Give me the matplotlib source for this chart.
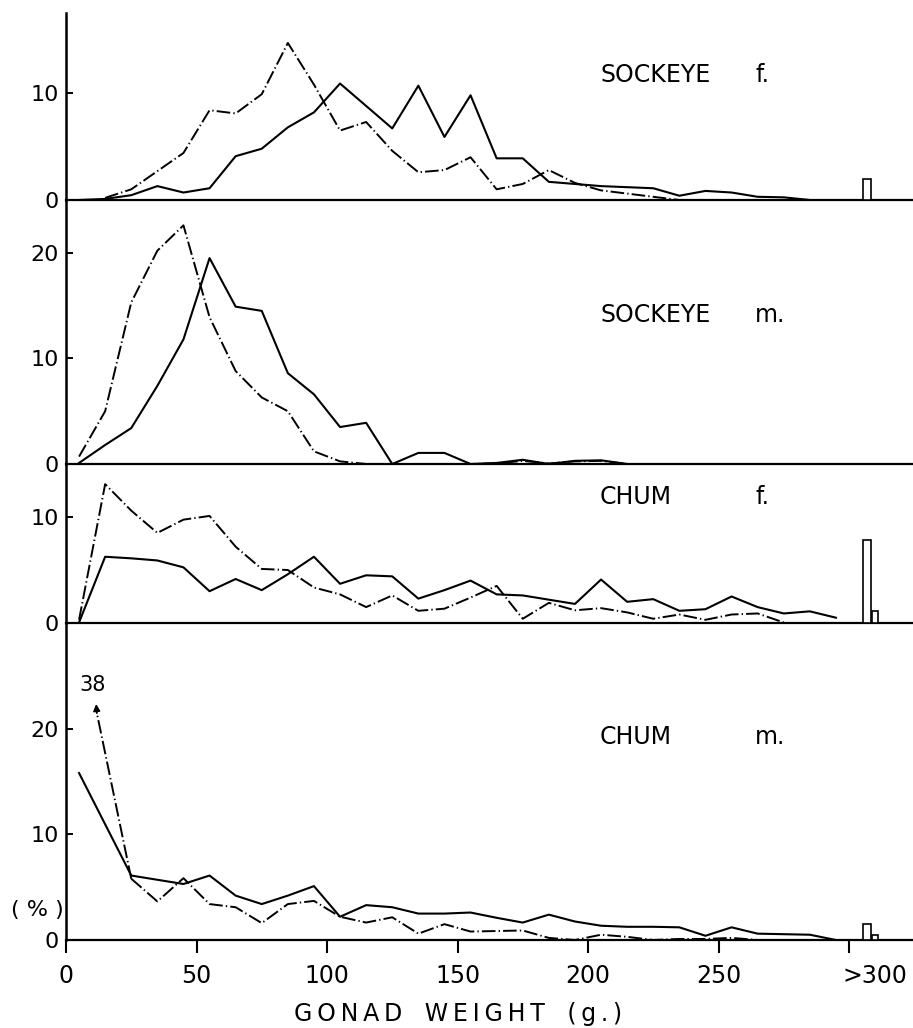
import matplotlib
matplotlib.use("Agg")
import matplotlib.pyplot as plt
import matplotlib.transforms as mtransforms

W, H = 913, 1028

# bin midpoints (g)
x_all = [5, 15, 25, 35, 45, 55, 65, 75, 85, 95, 105, 115, 125, 135, 145,
         155, 165, 175, 185, 195, 205, 215, 225, 235, 245, 255, 265, 275, 285, 295]

# SOCKEYE f.
sf_solid_x = x_all[:29]
sf_solid = [0.0, 0.1, 0.45, 1.3, 0.7, 1.1, 4.1, 4.8, 6.8, 8.2, 10.9, 8.8, 6.7, 10.7, 5.9,
            9.8, 3.9, 3.9, 1.7, 1.5, 1.3, 1.2, 1.1, 0.4, 0.85, 0.7, 0.3, 0.25, 0.0]
sf_dash_x = x_all[1:24]
sf_dash = [0.2, 1.0, 2.7, 4.4, 8.4, 8.1, 9.9, 14.7, 10.8, 6.5, 7.3, 4.6, 2.6, 2.8,
           4.0, 1.0, 1.5, 2.8, 1.6, 0.9, 0.6, 0.3, 0.0]
sf_bars = [2.0, 0.0]

# SOCKEYE m.
sm_solid_x = x_all[:22]
sm_solid = [0.1, 1.8, 3.4, 7.4, 11.8, 19.5, 14.9, 14.5, 8.6, 6.6, 3.5, 3.9, 0.0, 1.05, 1.05,
            0.0, 0.1, 0.4, 0.0, 0.3, 0.35, 0.0]
sm_dash_x = x_all[:22]
sm_dash = [0.7, 5.0, 15.3, 20.2, 22.6, 13.9, 8.8, 6.3, 5.0, 1.2, 0.25, 0.0, 0.0, 0.0, 0.0,
           0.0, 0.05, 0.3, 0.05, 0.25, 0.3, 0.0]
sm_bars = [0.0, 0.0]

# CHUM f.
cf_solid_x = x_all
cf_solid = [0.05, 6.25, 6.1, 5.9, 5.25, 3.0, 4.15, 3.1, 4.6, 6.25, 3.7, 4.5, 4.4, 2.3, 3.1,
            4.0, 2.7, 2.6, 2.2, 1.8, 4.1, 2.0, 2.25, 1.15, 1.3, 2.5, 1.5, 0.9, 1.1, 0.5]
cf_dash_x = x_all[:28]
cf_dash = [0.3, 13.1, 10.6, 8.5, 9.75, 10.1, 7.2, 5.1, 5.0, 3.35, 2.7, 1.5, 2.6, 1.15, 1.35,
           2.4, 3.5, 0.4, 1.9, 1.2, 1.4, 1.0, 0.4, 0.8, 0.3, 0.8, 0.9, 0.05]
cf_bars = [7.8, 1.1]

# CHUM m.
cm_solid_x = [5] + x_all[2:]
cm_solid = [15.8, 6.1, 5.7, 5.3, 6.1, 4.2, 3.4, 4.2, 5.1, 2.2, 3.3, 3.1, 2.5, 2.5,
            2.6, 2.1, 1.65, 2.4, 1.75, 1.35, 1.25, 1.25, 1.2, 0.4, 1.2, 0.6, 0.55, 0.5, 0.0]
cm_dash_first = 38  # off-scale value of the 15 g bin
cm_dash_x = x_all[2:27]
cm_dash = [5.8, 3.65, 5.85, 3.4, 3.1, 1.6, 3.4, 3.7, 2.2, 1.65, 2.15, 0.6, 1.5, 0.8,
           0.85, 0.9, 0.2, 0.0, 0.5, 0.3, 0.0, 0.1, 0.1, 0.2, 0.0]
cm_bars = [1.5, 0.5]

bar_x = [307, 310]
bar_w = [3, 2.5]

panels = [
    # top px, bottom px, ymax, yticks, name, sex, label y px, series
    (13, 200, 17.5, [0, 10], "SOCKEYE", "f.", 75,
     (sf_solid_x, sf_solid, sf_dash_x, sf_dash, sf_bars)),
    (200, 464, 25, [0, 10, 20], "SOCKEYE", "m.", 315,
     (sm_solid_x, sm_solid, sm_dash_x, sm_dash, sm_bars)),
    (464, 623, 15, [0, 10], "CHUM", "f.", 497,
     (cf_solid_x, cf_solid, cf_dash_x, cf_dash, cf_bars)),
    (623, 940, 30, [0, 10, 20], "CHUM", "m.", 737,
     (cm_solid_x, cm_solid, cm_dash_x, cm_dash, cm_bars)),
]

dashdot = (0, (7, 1.6, 0.7, 1.6))
left_px = 66
xmax = (W - left_px) / 2.61

fig = plt.figure(figsize=(W / 100, H / 100), dpi=100)

axes = []
for i, (top, bot, ymax, yt, name, sex, ly, ser) in enumerate(panels):
    ax = fig.add_axes([left_px / W, 1 - bot / H, 1 - left_px / W, (bot - top) / H])
    sx, sy, dx, dy, bars = ser
    ax.plot(sx, sy, color="black", lw=1.5)
    ax.plot(dx, dy, color="black", lw=1.4, linestyle=dashdot)
    for bx, bw, bh in zip(bar_x, bar_w, bars):
        if bh > 0:
            ax.bar(bx, bh, width=bw, facecolor="white", edgecolor="black",
                   linewidth=1.2, zorder=3)
    ax.set_xlim(0, xmax)
    ax.set_ylim(0, ymax)
    for s in ["top", "right"]:
        ax.spines[s].set_visible(False)
    ax.spines["left"].set_linewidth(1.8)
    ax.spines["bottom"].set_linewidth(1.6)
    ax.set_yticks(yt)
    ax.set_yticklabels([str(v) for v in yt])
    ax.tick_params(axis="y", direction="in", length=5, width=1.4, pad=5, labelsize=16)
    ax.patch.set_alpha(0)
    fig.text(600 / W, 1 - ly / H, name, fontsize=17, ha="left", va="center")
    fig.text(755 / W, 1 - ly / H, sex, fontsize=17, ha="left", va="center")
    if i < 3:
        ax.set_xticks([])
    axes.append(ax)

ax = axes[-1]
xt = [0, 50, 100, 150, 200, 250, 300]
ax.set_xticks(xt)
ax.set_xticklabels(["0", "50", "100", "150", "200", "250", ">300"])
ax.tick_params(axis="x", direction="out", length=9, width=1.5, pad=8, labelsize=17)
last = ax.get_xticklabels()[-1]
last.set_transform(last.get_transform() +
                   mtransforms.ScaledTranslation(0.26, 0, fig.dpi_scale_trans))

# off-scale first point of the chum m. dashed curve
ax.plot([cm_dash_x[0], 11.8], [cm_dash[0], 21.5], color="black", lw=1.4, linestyle=dashdot)
ax.annotate("", xy=(11.5, 22.6), xytext=(11.9, 21.2),
            arrowprops=dict(arrowstyle="-|>", color="black", lw=1.2, mutation_scale=10))
ax.text(10.0, 24.1, str(cm_dash_first), fontsize=15, ha="center", va="center")

fig.text(37 / W, 1 - 910 / H, "( % )", fontsize=16, ha="center", va="center")
ts = "\u2009"
label = "   ".join(ts.join(w) for w in ["GONAD", "WEIGHT", "(g.)"])
fig.text(458 / W, 1 - 1014 / H, label, fontsize=17, ha="center", va="center")

fig.savefig("out.png", dpi=100)
